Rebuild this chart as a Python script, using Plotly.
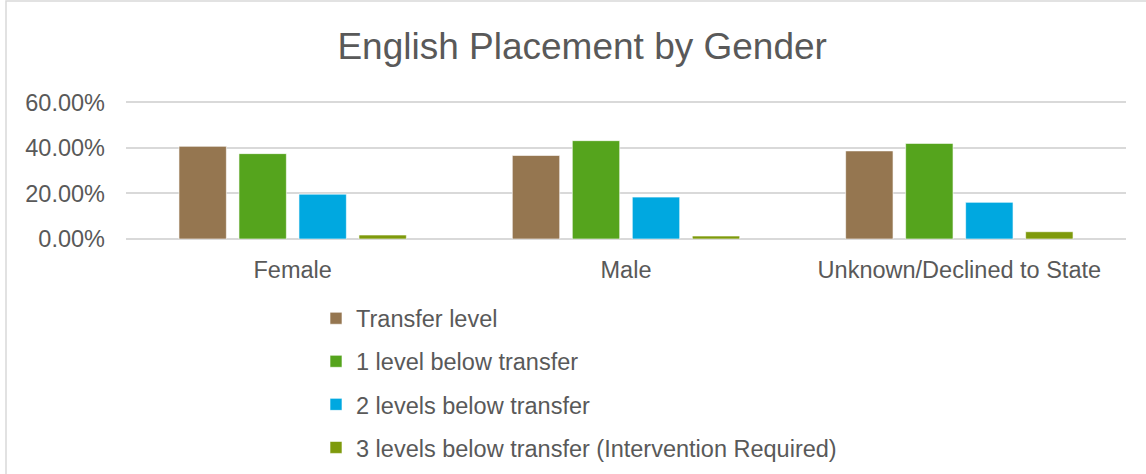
import plotly.graph_objects as go

categories = ["Female", "Male", "Unknown/Declined to State"]
series_names = [
    "Transfer level",
    "1 level below transfer",
    "2 levels below transfer",
    "3 levels below transfer (Intervention Required)",
]
transfer_level = [0.407, 0.367, 0.387]
one_below = [0.375, 0.432, 0.420]
two_below = [0.197, 0.184, 0.161]
three_below = [0.0175, 0.013, 0.032]
y_ticks = [0, 0.2, 0.4, 0.6]
y_tick_labels = ["0.00%", "20.00%", "40.00%", "60.00%"]

colors = ["#957650", "#55A41D", "#00A8E0", "#7E9A0C"]
values = [transfer_level, one_below, two_below, three_below]

FONT = "Liberation Sans, Arial, sans-serif"
TEXT = "#595959"

fig = go.Figure()
for name, vals, col in zip(series_names, values, colors):
    fig.add_trace(go.Bar(
        x=categories, y=vals, name=name, legendgroup=name,
        marker=dict(color=col, line=dict(color="rgba(255,255,255,0.6)", width=1)),
    ))

fig.update_layout(
    width=1146, height=474,
    margin=dict(l=126, r=20, t=99, b=235),
    paper_bgcolor="white", plot_bgcolor="white",
    barmode="group", bargap=0.28, bargroupgap=0.21,
    font=dict(family=FONT, color=TEXT, size=23.5),
    title=dict(text="English Placement by Gender", x=0.508, xanchor="center",
               y=0.902, yanchor="middle", yref="container",
               font=dict(family=FONT, size=37, color=TEXT)),
    showlegend=True,
    legend=dict(orientation="v", x=0.19, xanchor="left", xref="paper",
                y=0.3745, yanchor="top", yref="container",
                traceorder="grouped", tracegroupgap=9.5,
                font=dict(family=FONT, size=23.5, color=TEXT),
                bgcolor="rgba(0,0,0,0)"),
    xaxis=dict(showgrid=False, showline=False, ticks="", ticklabelstandoff=14,
               automargin=False,
               tickfont=dict(family=FONT, size=23.5, color=TEXT)),
    yaxis=dict(range=[0, 0.615], tickvals=y_ticks, ticktext=y_tick_labels,
               showgrid=True, gridcolor="#D9D9D9", gridwidth=1.5,
               zeroline=True, zerolinecolor="#D9D9D9", zerolinewidth=1.5,
               showline=False, ticks="", ticklabelstandoff=20, automargin=False,
               tickfont=dict(family=FONT, size=23.5, color=TEXT)),
    shapes=[dict(type="rect", xref="paper", yref="paper",
                 x0=-0.12, x1=1.03, y0=-1.8, y1=1.7,
                 line=dict(color="#D9D9D9", width=1.5), fillcolor="rgba(0,0,0,0)",
                 layer="below")],
)

fig.write_html("out.html", config={"displayModeBar": False},
               post_script="document.body.style.margin='0px';")
